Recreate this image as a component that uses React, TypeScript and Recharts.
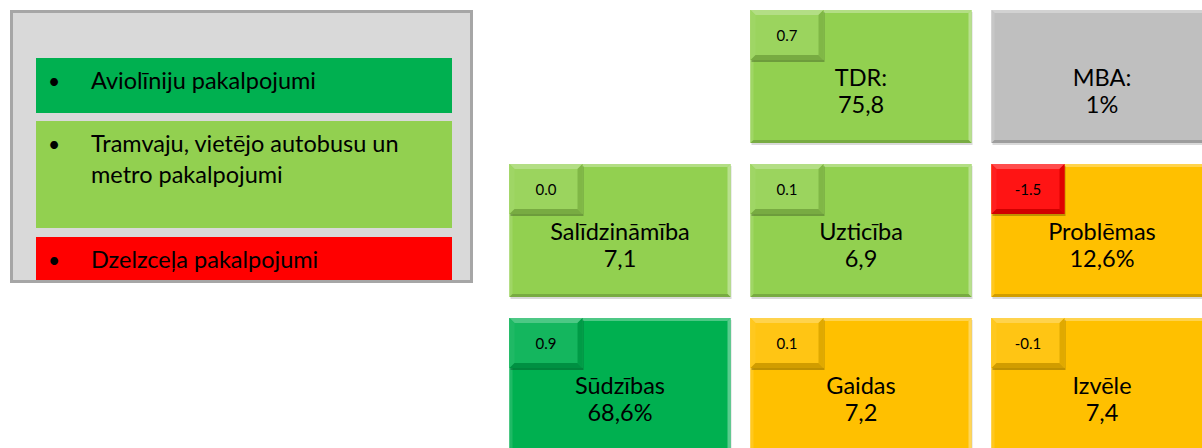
import React from "react";
import { ScatterChart, Scatter, XAxis, YAxis } from "recharts";

// tiles
const tileLabels = ["TDR:", "MBA:", "Salīdzināmība", "Uzticība", "Problēmas", "Sūdzības", "Gaidas", "Izvēle"];
const tileValues = ["75,8", "1%", "7,1", "6,9", "12,6%", "68,6%", "7,2", "7,4"];
const tileDeltas = ["0.7", "", "0.0", "0.1", "-1.5", "0.9", "0.1", "-0.1"];
const tileCols = [1, 2, 0, 1, 2, 0, 1, 2];
const tileRows = [0, 0, 1, 1, 1, 2, 2, 2];
const tileColors = ["#92d050", "#bfbfbf", "#92d050", "#92d050", "#ffc000", "#00b050", "#ffc000", "#ffc000"];
const deltaColors = ["#92d050", "", "#92d050", "#92d050", "#ff0000", "#00b050", "#ffc000", "#ffc000"];

// legend
const legendItems = ["Aviolīniju pakalpojumi", "Tramvaju, vietējo autobusu un metro pakalpojumi", "Dzelzceļa pakalpojumi"];
const legendColors = ["#00b050", "#92d050", "#ff0000"];

const data = tileLabels.map((label, i) => ({
  label,
  value: tileValues[i],
  delta: tileDeltas[i],
  col: tileCols[i],
  row: tileRows[i],
  color: tileColors[i],
  deltaColor: deltaColors[i],
}));

const FONT = "Lato, 'Open Sans', sans-serif";

function mix(hex: string, target: string, t: number) {
  const a = parseInt(hex.slice(1), 16);
  const b = parseInt(target.slice(1), 16);
  const ch = (v: number, s: number) => (v >> s) & 255;
  const r = Math.round(ch(a, 16) + (ch(b, 16) - ch(a, 16)) * t);
  const g = Math.round(ch(a, 8) + (ch(b, 8) - ch(a, 8)) * t);
  const bl = Math.round(ch(a, 0) + (ch(b, 0) - ch(a, 0)) * t);
  return `rgb(${r},${g},${bl})`;
}

function Bevel({ x, y, w, h, fill, b, small }: { x: number; y: number; w: number; h: number; fill: string; b: number; small?: boolean }) {
  const face = small ? mix(fill, "#ffffff", 0.08) : fill;
  return (
    <g>
      <rect x={x + 1} y={y + 2} width={w} height={h} fill="#000" opacity={small ? 0.25 : 0.15} />
      <rect x={x} y={y} width={w} height={h} fill={face} />
      <polygon points={`${x},${y} ${x + w},${y} ${x + w - b},${y + b} ${x + b},${y + b}`} fill={mix(fill, "#ffffff", 0.3)} />
      <polygon points={`${x},${y} ${x + b},${y + b} ${x + b},${y + h - b} ${x},${y + h}`} fill={mix(fill, "#ffffff", 0.12)} />
      <polygon
        points={`${x + w},${y} ${x + w},${y + h} ${x + w - b},${y + h - b} ${x + w - b},${y + b}`}
        fill={small ? mix(fill, "#000000", 0.12) : mix(fill, "#ffffff", 0.35)}
      />
      <polygon points={`${x},${y + h} ${x + w},${y + h} ${x + w - b},${y + h - b} ${x + b},${y + h - b}`} fill={mix(fill, "#000000", 0.18)} />
    </g>
  );
}

function Tile(props: any) {
  const { cx, cy } = props;
  const p = props.payload ?? props;
  const w = 221;
  const h = 133;
  const x0 = cx - w / 2;
  const y0 = cy - h / 2;
  return (
    <g>
      <Bevel x={x0} y={y0} w={w} h={h} fill={p.color} b={3} />
      {p.delta !== "" && (
        <g>
          <Bevel x={x0} y={y0} w={73} h={50} fill={p.deltaColor} b={5} small />
          <text x={x0 + 36.5} y={y0 + 31} textAnchor="middle" fontFamily={FONT} fontSize={15} fill="#000">
            {p.delta}
          </text>
        </g>
      )}
      <text x={cx} y={cy + 9} textAnchor="middle" fontFamily={FONT} fontSize={23.5} fill="#000">
        {p.label}
      </text>
      <text x={cx} y={cy + 36} textAnchor="middle" fontFamily={FONT} fontSize={23.5} fill="#000">
        {p.value}
      </text>
    </g>
  );
}

const legendTops = [48, 111, 227];
const legendHeights = [55, 107, 60];

function LegendBox() {
  return (
    <div
      style={{
        position: "absolute",
        left: 10,
        top: 10,
        width: 457,
        height: 267,
        background: "#d9d9d9",
        border: "3px solid #a6a6a6",
        overflow: "hidden",
        fontFamily: FONT,
        fontSize: 23.5,
        color: "#000",
      }}
    >
      {legendItems.map((item, i) => (
        <div
          key={item}
          style={{
            position: "absolute",
            left: 23,
            top: legendTops[i] - 3,
            width: 416,
            height: legendHeights[i],
            background: legendColors[i],
          }}
        >
          <div style={{ position: "absolute", left: 12, top: 7, lineHeight: "31px", fontSize: 21 }}>•</div>
          <div style={{ position: "absolute", left: 55, top: 7, width: 345, lineHeight: "31px" }}>{item}</div>
        </div>
      ))}
    </div>
  );
}

export default function App() {
  return (
    <div style={{ position: "absolute", left: 0, top: 0, width: 1202, height: 448, background: "#fff", overflow: "hidden" }}>
      <LegendBox />
      <div style={{ position: "absolute", left: 0, top: 0 }}>
        <ScatterChart width={1202} height={448} margin={{ top: 76.5, right: 100, bottom: 63.5, left: 620 }}>
          <XAxis type="number" dataKey="col" domain={[0, 2]} hide />
          <YAxis type="number" dataKey="row" domain={[0, 2]} reversed hide />
          <Scatter data={data} shape={Tile} isAnimationActive={false} />
        </ScatterChart>
      </div>
    </div>
  );
}
